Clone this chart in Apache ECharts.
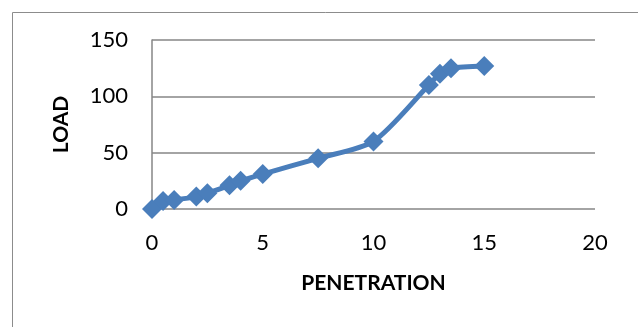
<!DOCTYPE html>
<html><head><meta charset="utf-8">
<script src="https://cdn.jsdelivr.net/npm/echarts@6/dist/echarts.min.js"></script>
<style>html,body{margin:0;padding:0;background:#fff}#c{width:638px;height:327px}</style>
</head><body><div id="c"></div>
<script>
const penetration = [0, 0.5, 1, 2, 2.5, 3.5, 4, 5, 7.5, 10, 12.5, 13, 13.5, 15];
const load = [0, 7, 8, 11, 14, 21, 25, 31, 45, 60, 110, 120, 125, 127];
const xTicks = [0, 5, 10, 15, 20];
const yTicks = [0, 50, 100, 150];

const chart = echarts.init(document.getElementById('c'), null, {renderer: 'canvas'});
const font = 'Lato, "Open Sans", sans-serif';
chart.setOption({
  animation: false,
  graphic: [{type: 'rect', shape: {x: 12.5, y: 12.5, width: 640, height: 400}, style: {fill: 'none', stroke: '#8c8c8c', lineWidth: 1}, silent: true}],
  grid: {left: 152, right: 43, top: 40, bottom: 118, containLabel: false},
  xAxis: {
    type: 'value', min: xTicks[0], max: xTicks[xTicks.length - 1], interval: 5,
    name: 'PENETRATION', nameLocation: 'middle', nameGap: 64,
    nameTextStyle: {fontFamily: font, fontWeight: 'bold', fontSize: 21, color: '#000'},
    axisLine: {show: false}, axisTick: {show: false},
    axisLabel: {fontFamily: font, fontSize: 22, color: '#000', margin: 23},
    splitLine: {show: false}
  },
  yAxis: {
    type: 'value', min: yTicks[0], max: yTicks[yTicks.length - 1], interval: 50,
    name: 'LOAD', nameLocation: 'middle', nameGap: 80, nameRotate: 90,
    nameTextStyle: {fontFamily: font, fontWeight: 'bold', fontSize: 21, color: '#000'},
    axisLine: {show: true, lineStyle: {color: '#868686', width: 1.5}}, axisTick: {show: false},
    axisLabel: {fontFamily: font, fontSize: 22, color: '#000', margin: 24},
    splitLine: {show: true, lineStyle: {color: '#868686', width: 1.5}}
  },
  series: [{
    type: 'line', smooth: 0.25,
    data: penetration.map((x, i) => [x, load[i]]),
    symbol: 'diamond', symbolSize: 20,
    lineStyle: {color: '#4a7ebb', width: 5},
    itemStyle: {color: '#4a7ebb'}
  }]
});
</script></body></html>
